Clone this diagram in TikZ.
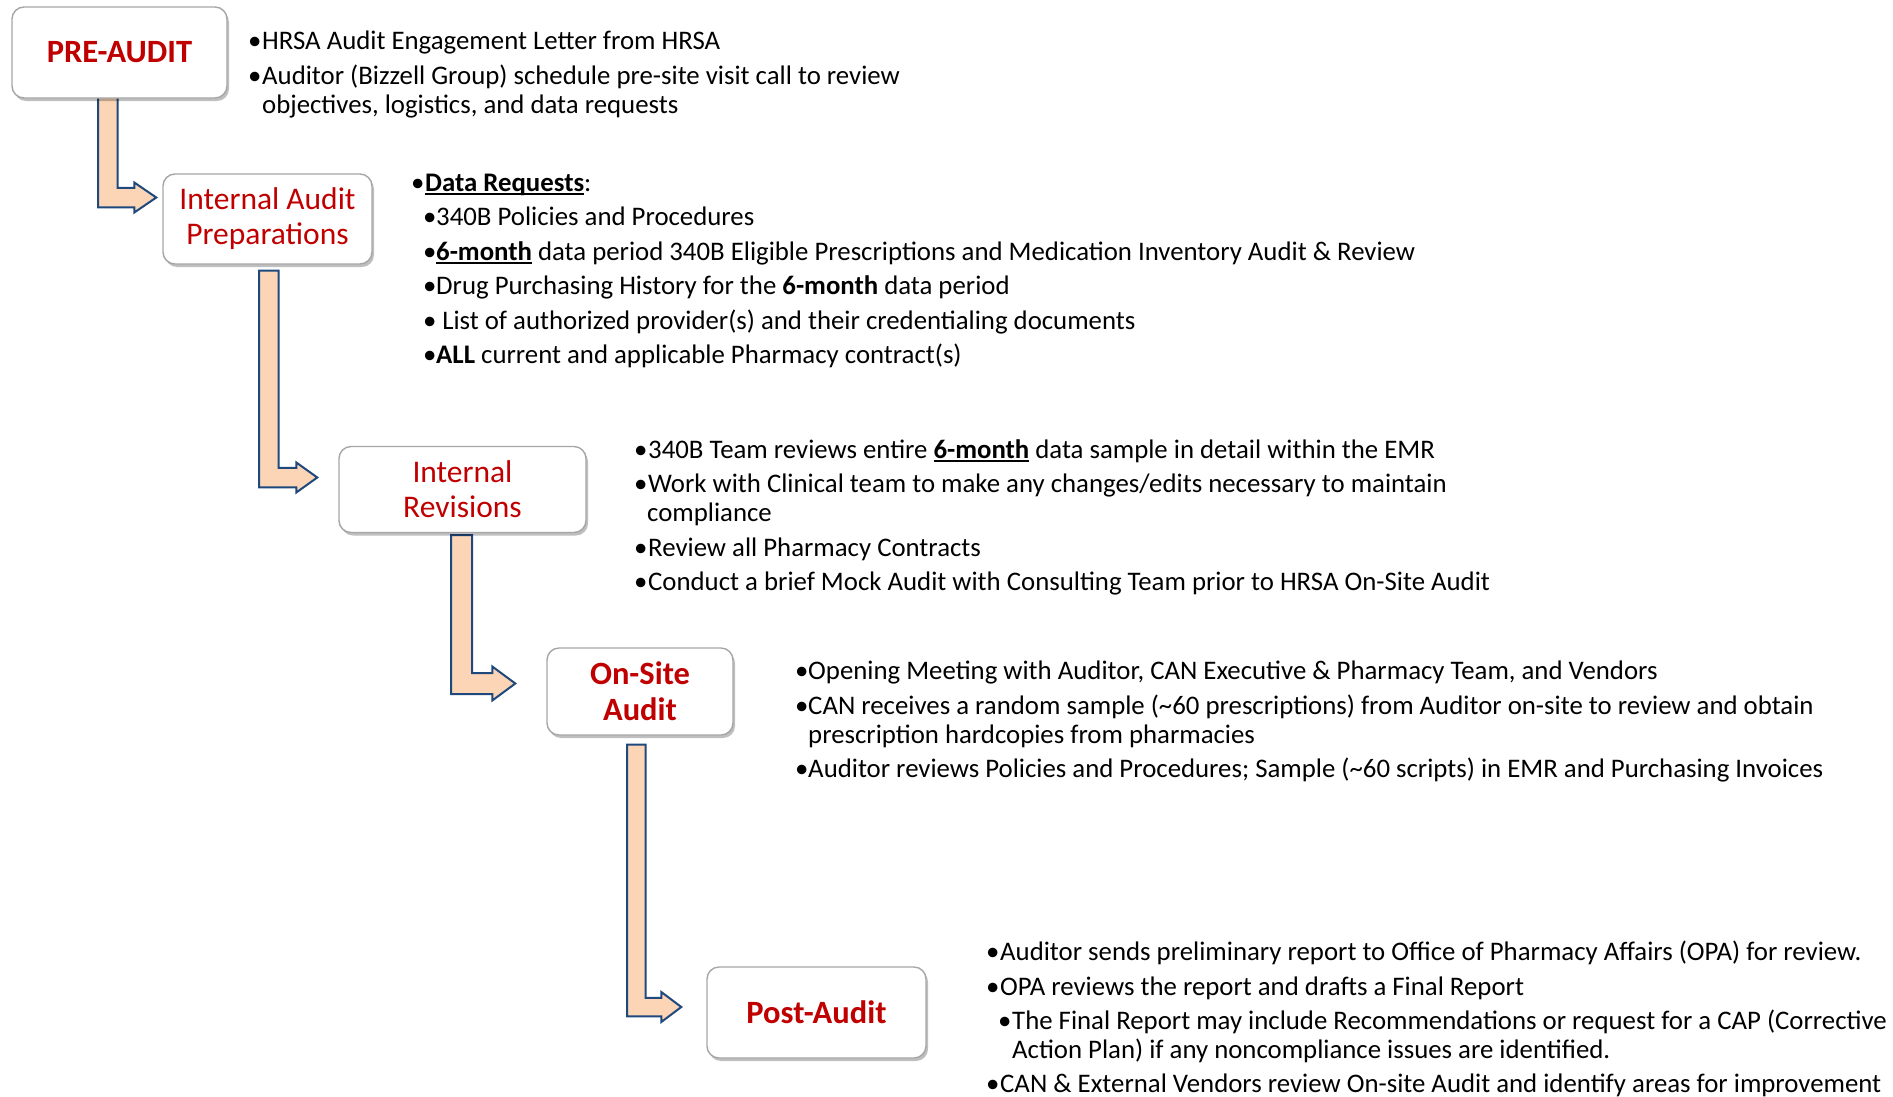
\documentclass[tikz,border=0pt]{standalone}
\usepackage{fontspec}
\setmainfont{Carlito}
\usetikzlibrary{calc,shadows}
\definecolor{stagered}{HTML}{C00000}
\definecolor{arrfill}{HTML}{FBD5B5}
\definecolor{arrline}{HTML}{1F497D}
\definecolor{boxline}{HTML}{A6A6A6}
\pgfdeclarelayer{bg}
\pgfsetlayers{bg,main}
\newcommand\bul[1][14]{\makebox[#1pt][l]{•}}
\newcommand\myul[1]{\setbox0=\hbox{#1}\rlap{\rule[-3.5pt]{\wd0}{1.6pt}}\box0\relax}
\newcommand\bentarrow[5]{%
  \draw[bendarrow] let \p1=(#1), \p2=(#2) in
  (\x1,\y1) -- ({\x1+#3pt},\y1) -- ({\x1+#3pt},{\y2+#3pt/2})
  -- ({\x2-#4pt},{\y2+#3pt/2}) -- ({\x2-#4pt},{\y2+#5pt}) -- (\x2,\y2)
  -- ({\x2-#4pt},{\y2-#5pt}) -- ({\x2-#4pt},{\y2-#3pt/2}) -- (\x1,{\y2-#3pt/2}) -- cycle;}
\begin{document}
\begin{tikzpicture}[x=1pt,y=-1pt,
  txt/.style={anchor=base west, inner sep=0pt, font=\fontsize{26.8}{30}\selectfont},
  stage/.style={draw=boxline, fill=white, rounded corners=12pt, line width=1.4pt,
    text=stagered, align=center, inner sep=0pt,
    drop shadow={shadow xshift=2pt, shadow yshift=-3pt, opacity=0.25, fill=black}},
  boldstage/.style={stage, font=\bfseries\fontsize{32.5}{36}\selectfont},
  plainstage/.style={stage, font=\fontsize{31.5}{35}\selectfont},
  bendarrow/.style={fill=arrfill, draw=arrline, line width=2pt, line join=miter}]
\useasboundingbox (0,0) rectangle (1893,1096);
\begin{pgfonlayer}{bg}
\fill[white] (0,0) rectangle (1893,1096);
\end{pgfonlayer}

% stage boxes
\node[boldstage, minimum width=215pt, minimum height=91pt] (pre) at (119.5,52.5) {PRE-AUDIT};
\node[plainstage, minimum width=209pt, minimum height=90pt] (iap) at (267.5,219) {\raisebox{-2pt}{\parbox{200pt}{\centering Internal Audit\\Preparations}}};
\node[plainstage, minimum width=247pt, minimum height=86pt] (ir) at (462.5,489.5) {Internal\\Revisions};
\node[boldstage, minimum width=186pt, minimum height=87pt] (osa) at (640,691.5) {On-Site\\Audit};
\node[boldstage, minimum width=219pt, minimum height=91pt] (pa) at (816.5,1012.5) {Post-Audit};

% arrow end points
\coordinate (a1s) at ($(pre.south)+(-21.5,-8)$);
\coordinate (a1t) at ($(iap.west)+(-6,-21.5)$);
\coordinate (a2s) at ($(iap.south)+(-8.5,6)$);
\coordinate (a2t) at ($(ir.west)+(-21,-12)$);
\coordinate (a3s) at ($(ir.south)+(-11.5,2)$);
\coordinate (a3t) at ($(osa.west)+(-31,-8)$);
\coordinate (a4s) at ($(osa.south)+(-13,9)$);
\coordinate (a4t) at ($(pa.west)+(-25,-5.5)$);
\begin{pgfonlayer}{bg}
\bentarrow{a1s}{a1t}{19.5}{22}{15}
\bentarrow{a2s}{a2t}{19.5}{21}{15}
\bentarrow{a3s}{a3t}{21}{23}{17}
\bentarrow{a4s}{a4t}{18.5}{20}{15}
\end{pgfonlayer}

% block 1
\node[txt] (t1a) at (248,49) {\bul HRSA Audit Engagement Letter from HRSA};
\node[txt] (t1b) at (248,84) {\bul Auditor (Bizzell Group) schedule pre-site visit call to review};
\node[txt] (t1c) at (262,113) {objectives, logistics, and data requests};

% block 2
\node[txt] (t2a) at (411,191) {\bul\myul{\textbf{Data Requests}}:};
\node[txt] (t2b) at (423,225) {\bul[13]340B Policies and Procedures};
\node[txt] (t2c) at (423,260) {\bul[13]\myul{\textbf{6-month}} data period 340B Eligible Prescriptions and Medication Inventory Audit \& Review};
\node[txt] (t2d) at (423,294) {\bul[13]Drug Purchasing History for the \textbf{6-month} data period};
\node[txt] (t2e) at (423,329) {\bul[13]{} List of authorized provider(s) and their credentialing documents};
\node[txt] (t2f) at (423,363) {\bul[13]\textbf{ALL} current and applicable Pharmacy contract(s)};

% block 3
\node[txt] (t3a) at (634,458) {\bul 340B Team reviews entire \myul{\textbf{6-month}} data sample in detail within the EMR};
\node[txt] (t3b) at (634,492) {\bul Work with Clinical team to make any changes/edits necessary to maintain};
\node[txt] (t3c) at (647,521) {compliance};
\node[txt] (t3d) at (634,556) {\bul Review all Pharmacy Contracts};
\node[txt] (t3e) at (634,590) {\bul Conduct a brief Mock Audit with Consulting Team prior to HRSA On-Site Audit};

% block 4
\node[txt] (t4a) at (795,679) {\bul[13]Opening Meeting with Auditor, CAN Executive \& Pharmacy Team, and Vendors};
\node[txt] (t4b) at (795,714) {\bul[13]CAN receives a random sample (\textasciitilde 60 prescriptions) from Auditor on-site to review and obtain};
\node[txt] (t4c) at (808,743) {prescription hardcopies from pharmacies};
\node[txt] (t4d) at (795,777) {\bul[13]Auditor reviews Policies and Procedures; Sample (\textasciitilde 60 scripts) in EMR and Purchasing Invoices};

% block 5
\node[txt] (t5a) at (986,960) {\bul Auditor sends preliminary report to Office of Pharmacy Affairs (OPA) for review.};
\node[txt] (t5b) at (986,995) {\bul OPA reviews the report and drafts a Final Report};
\node[txt] (t5c) at (998,1029) {\bul The Final Report may include Recommendations or request for a CAP (Corrective};
\node[txt] (t5d) at (1012,1058) {Action Plan) if any noncompliance issues are identified.};
\node[txt] (t5e) at (986,1092) {\bul CAN \& External Vendors review On-site Audit and identify areas for improvement};
\end{tikzpicture}
\end{document}
